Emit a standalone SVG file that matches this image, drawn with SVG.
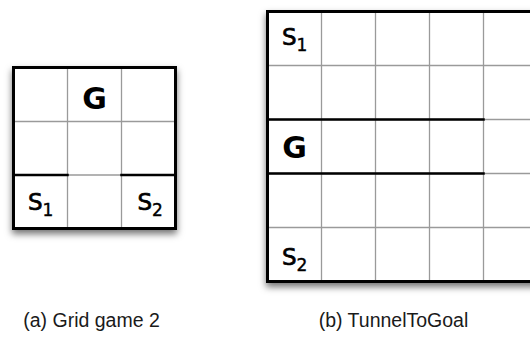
<svg xmlns="http://www.w3.org/2000/svg" width="530" height="338" viewBox="0 0 530 338">
<style>
.grid{stroke:#9a9a9a;stroke-width:1.3;fill:none}
.wall{stroke:#000;stroke-width:2.5;fill:none;stroke-linecap:square}
.border{stroke:#000;stroke-width:3;fill:#fff}
.g{font-family:"DejaVu Sans",sans-serif;font-weight:bold;font-size:30px;text-anchor:middle;fill:#000}
.s{font-family:"DejaVu Sans",sans-serif;font-size:23px;fill:#000;stroke:#000;stroke-width:0.7}
.sub{font-size:17px;stroke-width:0.4}
.cap{font-family:"Liberation Sans",Arial,sans-serif;font-size:19.5px;text-anchor:middle;fill:#1a1a1a}
</style>
<defs>
<filter id="sh" x="-20%" y="-20%" width="140%" height="140%">
<feDropShadow dx="0" dy="4" stdDeviation="3.5" flood-color="#000" flood-opacity="0.55"/>
</filter>
</defs>
<rect width="530" height="338" fill="#fff"/>
<g id="gridgame2">
<rect class="border" x="13.5" y="67.5" width="162" height="161" filter="url(#sh)"/>
<path class="grid" d="M67.5 67.5V228.5M121.5 67.5V228.5M13.5 121.5H175.5M13.5 175H175.5"/>
<path class="wall" d="M13.5 175H67.5M121.5 175H175.5"/>
<rect x="13.5" y="67.5" width="162" height="161" fill="none" stroke="#000" stroke-width="3"/>
<text class="g" x="94.5" y="108.5">G</text>
<text class="s" x="28" y="210">S<tspan class="sub" dy="6">1</tspan></text>
<text class="s" x="137.5" y="210">S<tspan class="sub" dy="6">2</tspan></text>
</g>
<g id="tunneltogoal">
<rect class="border" x="267.5" y="11.5" width="280" height="270" filter="url(#sh)"/>
<path class="grid" d="M321.5 11.5V281.5M375.5 11.5V281.5M429.5 11.5V281.5M483.5 11.5V281.5M267.5 65.5H530M267.5 119.5H530M267.5 173.5H530M267.5 227.5H530"/>
<path class="wall" d="M267.5 119.5H483.5M267.5 173.5H483.5"/>
<rect x="267.5" y="11.5" width="280" height="270" fill="none" stroke="#000" stroke-width="3"/>
<text class="g" x="294.5" y="157.7">G</text>
<text class="s" x="282" y="45">S<tspan class="sub" dy="6">1</tspan></text>
<text class="s" x="282" y="265">S<tspan class="sub" dy="6">2</tspan></text>
</g>
<g id="captions">
<text class="cap" x="91.5" y="327">(a) Grid game 2</text>
<text class="cap" x="393.5" y="327">(b) TunnelToGoal</text>
</g>
</svg>
